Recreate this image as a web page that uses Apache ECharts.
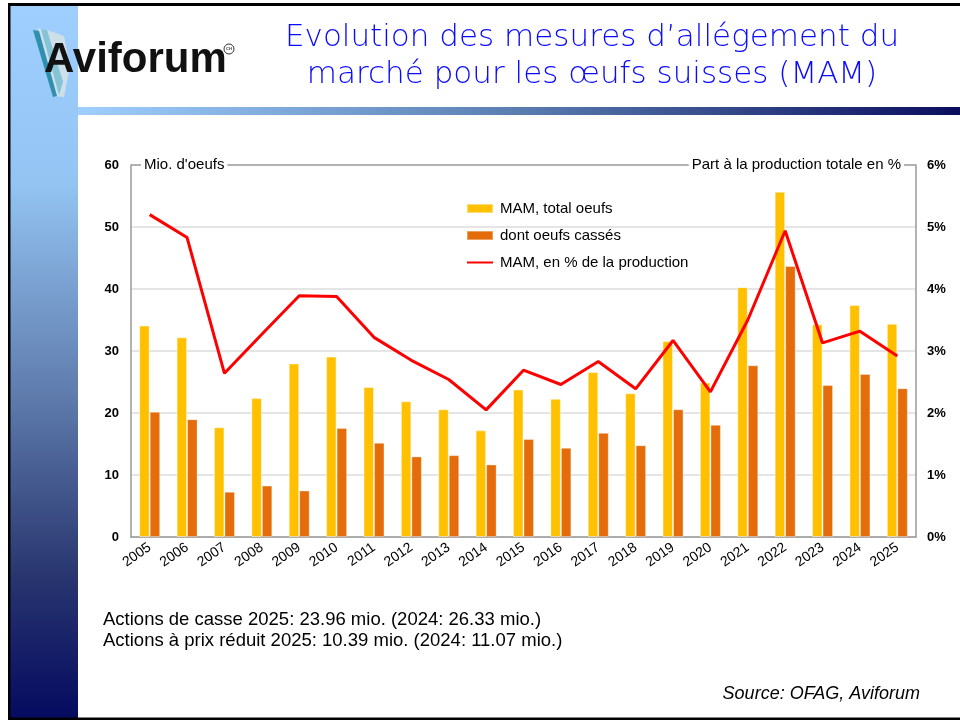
<!DOCTYPE html>
<html>
<head>
<meta charset="utf-8">
<script src="https://cdn.jsdelivr.net/npm/echarts@6/dist/echarts.min.js"></script>
<style>
  html, body { margin: 0; padding: 0; background: #fff; }
  #myChart { width: 960px; height: 721px; }
</style>
</head>
<body>
<div id="myChart"></div>
<script>
// données
var years = ['2005','2006','2007','2008','2009','2010','2011','2012','2013','2014','2015',
             '2016','2017','2018','2019','2020','2021','2022','2023','2024','2025'];
var totalOeufs = [34.1, 32.2, 17.7, 22.4, 28.0, 29.1, 24.2, 21.9, 20.6, 17.2, 23.8,
                  22.3, 26.6, 23.2, 31.6, 24.9, 40.3, 55.7, 34.3, 37.4, 34.4];
var oeufsCasses = [20.2, 19.0, 7.3, 8.3, 7.5, 17.6, 15.2, 13.0, 13.2, 11.7, 15.8,
                   14.4, 16.8, 14.8, 20.6, 18.1, 27.7, 43.7, 24.5, 26.3, 24.0];
var partProduction = [5.20, 4.83, 2.64, 3.27, 3.89, 3.88, 3.22, 2.85, 2.54, 2.05, 2.69,
                      2.46, 2.83, 2.39, 3.17, 2.34, 3.50, 4.94, 3.13, 3.32, 2.92];
var leftTicks = [0, 10, 20, 30, 40, 50, 60];
var rightTicks = [0, 1, 2, 3, 4, 5, 6];

var font = '"Liberation Sans", Arial, sans-serif';
var titleFont = '200 31px "DejaVu Sans", "Noto Sans", sans-serif';
var myChart = echarts.init(document.getElementById('myChart'));

myChart.setOption({
  backgroundColor: '#fff',
  animation: false,
  textStyle: { fontFamily: font },
  grid: { left: 131, right: 44, top: 165, bottom: 184, containLabel: false },
  legend: {
    orient: 'vertical',
    left: 466,
    top: 199.5,
    padding: 0,
    itemWidth: 26,
    itemHeight: 9,
    itemGap: 9,
    textStyle: { fontSize: 15, color: '#000', lineHeight: 18, padding: [0, 0, 0, 2] },
    data: [
      { name: 'MAM, total oeufs', icon: 'rect' },
      { name: 'dont oeufs cassés', icon: 'rect' },
      { name: 'MAM, en % de la production', itemStyle: { opacity: 0 } }
    ]
  },
  xAxis: {
    type: 'category',
    data: years,
    axisTick: { show: false },
    axisLine: { lineStyle: { color: '#999', width: 1.5 } },
    axisLabel: { rotate: 35, fontSize: 14, color: '#000', margin: 9, interval: 0 }
  },
  yAxis: [
    {
      type: 'value',
      min: leftTicks[0],
      max: leftTicks[leftTicks.length - 1],
      interval: 10,
      axisLine: { show: true, lineStyle: { color: '#999', width: 1.5 } },
      axisTick: { show: false },
      axisLabel: { fontSize: 13, fontWeight: 'bold', color: '#000', margin: 12 },
      splitLine: { lineStyle: { color: ['#ddd', '#ddd', '#ddd', '#ddd', '#ddd', '#ddd', '#999'], width: 1.5 } }
    },
    {
      type: 'value',
      min: rightTicks[0],
      max: rightTicks[rightTicks.length - 1],
      interval: 1,
      position: 'right',
      axisLine: { show: true, lineStyle: { color: '#999', width: 1.5 } },
      axisTick: { show: false },
      axisLabel: { fontSize: 13, fontWeight: 'bold', color: '#000', margin: 11, formatter: '{value}%' },
      splitLine: { show: false }
    }
  ],
  series: [
    {
      name: 'MAM, total oeufs',
      type: 'bar',
      barWidth: 10.5,
      barGap: '0%',
      itemStyle: { color: '#FFC000', borderColor: 'rgba(255,255,255,0.45)', borderWidth: 1 },
      data: totalOeufs
    },
    {
      name: 'dont oeufs cassés',
      type: 'bar',
      barWidth: 10.5,
      barGap: '0%',
      itemStyle: { color: '#E46C0A', borderColor: 'rgba(255,255,255,0.35)', borderWidth: 1 },
      data: oeufsCasses
    },
    {
      name: 'MAM, en % de la production',
      type: 'line',
      yAxisIndex: 1,
      symbol: 'none',
      z: 5,
      lineStyle: { color: '#FF0000', width: 3 },
      itemStyle: { color: '#FF0000' },
      data: partProduction
    }
  ],
  graphic: [
    // bande gauche en dégradé
    { type: 'rect', z: -10, shape: { x: 10, y: 5, width: 68, height: 713 },
      style: { fill: new echarts.graphic.LinearGradient(0, 0, 0, 1, [
        { offset: 0, color: '#9fcfff' }, { offset: 0.25, color: '#93c4f2' },
        { offset: 0.55, color: '#5e7bac' }, { offset: 0.8, color: '#29366f' },
        { offset: 1, color: '#050b60' }]) } },
    // barre sous l'en-tête
    { type: 'rect', z: -10, shape: { x: 78, y: 107, width: 882, height: 8 },
      style: { fill: new echarts.graphic.LinearGradient(0, 0, 1, 0, [
        { offset: 0, color: '#9fcfff' }, { offset: 0.5, color: '#5a7db0' },
        { offset: 1, color: '#0a0d5e' }]) } },
    // cadre noir
    { type: 'rect', z: -5, shape: { x: 8, y: 3, width: 952, height: 3 }, style: { fill: '#000' } },
    { type: 'rect', z: -5, shape: { x: 8, y: 3, width: 2.5, height: 717 }, style: { fill: '#000' } },
    { type: 'rect', z: -5, shape: { x: 8, y: 717.5, width: 952, height: 2.5 }, style: { fill: '#000' } },
    // logo : plume
    { type: 'polygon', z: -4, shape: { points: [[38, 28], [50, 31], [64, 36], [70, 66], [64, 97], [53, 96]] },
      style: { fill: '#cddfe8' } },
    { type: 'polygon', z: -3, shape: { points: [[41, 29], [47, 30], [63, 82], [59, 95]] },
      style: { fill: '#86c3d6' } },
    { type: 'polygon', z: -3, shape: { points: [[33, 30], [39, 31], [57, 96], [53, 97]] },
      style: { fill: '#2e8fae' } },
    { type: 'text', z: 0, left: 44, top: 39,
      style: { text: 'Aviforum', font: 'bold 42px ' + font, fill: '#111' } },
    { type: 'circle', z: 0, shape: { cx: 229, cy: 49, r: 5 },
      style: { fill: 'none', stroke: '#333', lineWidth: 1 } },
    { type: 'text', z: 0, x: 229, y: 49,
      style: { text: 'CH', font: 'bold 4px ' + font, fill: '#333', align: 'center', verticalAlign: 'middle' } },
    // titre
    { type: 'text', x: 592, y: 38,
      style: { text: 'Evolution des mesures d\u2019allégement du', font: titleFont,
        fill: '#0a0aff', align: 'center', verticalAlign: 'middle' } },
    { type: 'text', x: 592, y: 75,
      style: { text: 'marché pour les œufs suisses (MAM)', font: titleFont,
        fill: '#0a0aff', align: 'center', verticalAlign: 'middle' } },
    // noms des axes
    { type: 'text', x: 141, y: 165, z: 10,
      style: { text: 'Mio. d\'oeufs', font: '15px ' + font, fill: '#000', verticalAlign: 'middle',
        backgroundColor: '#fff', padding: [0, 3] } },
    { type: 'text', x: 904, y: 165, z: 10,
      style: { text: 'Part à la production totale en %', font: '15px ' + font, fill: '#000', align: 'right',
        verticalAlign: 'middle', backgroundColor: '#fff', padding: [0, 3] } },
    // notes
    { type: 'text', x: 103, y: 620,
      style: { text: 'Actions de casse 2025: 23.96 mio. (2024: 26.33 mio.)', font: '18.5px ' + font,
        fill: '#000', verticalAlign: 'middle' } },
    { type: 'text', x: 103, y: 641,
      style: { text: 'Actions à prix réduit 2025: 10.39 mio. (2024: 11.07 mio.)', font: '18.5px ' + font,
        fill: '#000', verticalAlign: 'middle' } },
    { type: 'text', x: 920, y: 694,
      style: { text: 'Source: OFAG, Aviforum', font: 'italic 18px ' + font, fill: '#000',
        align: 'right', verticalAlign: 'middle' } }
  ]
});
</script>
</body>
</html>
